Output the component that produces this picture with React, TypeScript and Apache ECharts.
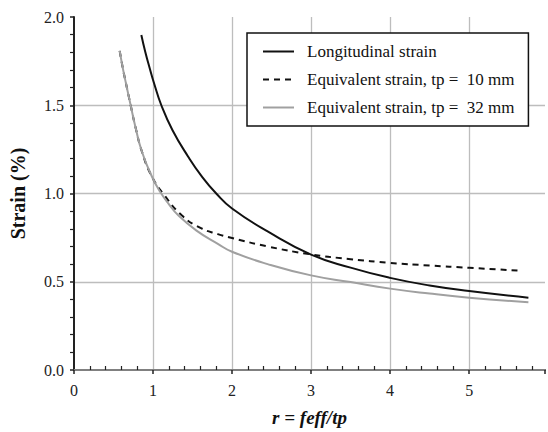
import React, { useEffect, useRef } from "react";
import * as echarts from "echarts";

const seriesNames = [
  "Longitudinal strain",
  "Equivalent strain, tp =  10 mm",
  "Equivalent strain, tp =  32 mm",
];

const xLong = [0.852, 0.903, 0.958, 1.013, 1.105, 1.245, 1.443, 1.612, 1.8, 2.0, 2.45, 3.0, 3.5, 4.0, 4.5, 5.0, 5.75];
const yLong = [1.898, 1.8, 1.71, 1.625, 1.5, 1.36, 1.21, 1.1, 1.0, 0.915, 0.785, 0.654, 0.58, 0.522, 0.479, 0.448, 0.41];

const x10 = [0.578, 0.62, 0.662, 0.717, 0.776, 0.861, 0.987, 1.127, 1.36, 1.6, 1.82, 2.0, 2.45, 3.0, 3.5, 4.0, 4.5, 5.0, 5.67];
const y10 = [1.808, 1.705, 1.615, 1.5, 1.38, 1.235, 1.095, 1.0, 0.878, 0.805, 0.77, 0.748, 0.7, 0.655, 0.628, 0.607, 0.592, 0.579, 0.562];

const x32 = [0.578, 0.62, 0.662, 0.717, 0.776, 0.861, 0.987, 1.09, 1.2, 1.316, 1.55, 1.82, 2.0, 2.45, 3.0, 3.5, 4.0, 4.5, 5.0, 5.75];
const y32 = [1.808, 1.705, 1.615, 1.5, 1.38, 1.235, 1.095, 1.01, 0.94, 0.878, 0.79, 0.715, 0.67, 0.6, 0.536, 0.498, 0.461, 0.433, 0.41, 0.384];

const xMin = 0;
const xMax = 5.96;
const yMin = 0;
const yMax = 2;
const FONT = "Liberation Serif";

const zip = (xs: number[], ys: number[]) => xs.map((x, i) => [x, ys[i]]);

export default function App() {
  const ref = useRef<HTMLDivElement>(null);
  useEffect(() => {
    document.body.style.margin = "0";
    const chart = echarts.init(ref.current!, null, { renderer: "svg" });
    chart.setOption({
      animation: false,
      textStyle: { fontFamily: FONT },
      grid: { left: 74, top: 17, right: 0, bottom: 59 },
      legend: {
        orient: "vertical",
        left: 247,
        top: 33,
        data: seriesNames,
        backgroundColor: "#fff",
        borderColor: "#111",
        borderWidth: 1.5,
        borderRadius: 0,
        padding: [10, 14, 10, 15],
        itemWidth: 31,
        itemHeight: 14,
        itemGap: 11,
        itemStyle: { opacity: 0 },
        textStyle: { fontFamily: FONT, fontSize: 17, color: "#111", padding: [0, 0, 0, 8] },
      },
      xAxis: [
        {
          type: "value",
          min: xMin,
          max: xMax,
          interval: 1,
          position: "bottom",
          axisLine: { show: true, onZero: false, lineStyle: { color: "#222", width: 2 } },
          axisTick: { show: true, inside: false, length: 4, lineStyle: { color: "#222", width: 1.5 } },
          axisLabel: {
            fontFamily: FONT,
            fontSize: 16,
            color: "#222",
            margin: 12,
            formatter: (v: number) => (Math.abs(v - Math.round(v)) < 1e-6 ? String(Math.round(v)) : ""),
          },
          splitLine: { show: true, showMinLine: false, showMaxLine: false, lineStyle: { color: "#bdbdbd", width: 1.3 } },
          name: "r = feff/tp",
          nameLocation: "middle",
          nameGap: 38,
          nameTextStyle: { fontFamily: FONT, fontSize: 19, fontWeight: "bold", fontStyle: "italic", color: "#111" },
        },
        {
          type: "value",
          min: xMin,
          max: xMax,
          interval: 1,
          position: "bottom",
          axisLine: { show: false },
          axisTick: { show: false, inside: true },
          minorTick: { show: true, splitNumber: 5, length: 4, lineStyle: { color: "#222", width: 1.2 } },
          axisLabel: { show: false },
          splitLine: { show: false },
        },
        {
          type: "value",
          min: xMin,
          max: xMax,
          interval: 1,
          position: "top",
          axisLine: { show: true, lineStyle: { color: "#808080", width: 1.8 } },
          axisTick: { show: false },
          axisLabel: { show: false },
          splitLine: { show: false },
        },
      ],
      yAxis: [
        {
          type: "value",
          min: yMin,
          max: yMax,
          interval: 0.5,
          axisLine: { show: true, onZero: false, lineStyle: { color: "#222", width: 2 } },
          axisTick: { show: true, inside: false, length: 4, lineStyle: { color: "#222", width: 1.5 } },
          axisLabel: {
            fontFamily: FONT,
            fontSize: 16,
            color: "#222",
            margin: 10,
            formatter: (v: number) => v.toFixed(1),
          },
          splitLine: { show: true, showMinLine: false, showMaxLine: false, lineStyle: { color: "#bdbdbd", width: 1.3 } },
          name: "Strain (%)",
          nameLocation: "middle",
          nameGap: 46,
          nameTextStyle: { fontFamily: FONT, fontSize: 20, fontWeight: "bold", color: "#111" },
        },
        {
          type: "value",
          min: yMin,
          max: yMax,
          interval: 0.5,
          axisLine: { show: false },
          axisTick: { show: false, inside: true },
          minorTick: { show: true, splitNumber: 5, length: 4, lineStyle: { color: "#222", width: 1.2 } },
          axisLabel: { show: false },
          splitLine: { show: false },
        },
      ],
      series: [
        {
          name: seriesNames[1],
          type: "line",
          data: zip(x10, y10),
          smooth: 0.5,
          symbol: "none",
          lineStyle: { color: "#111", width: 2, type: [6, 5] },
          itemStyle: { color: "#111" },
          z: 2,
        },
        {
          name: seriesNames[2],
          type: "line",
          data: zip(x32, y32),
          smooth: 0.5,
          symbol: "none",
          lineStyle: { color: "#a0a0a0", width: 2 },
          itemStyle: { color: "#a0a0a0" },
          z: 3,
        },
        {
          name: seriesNames[0],
          type: "line",
          data: zip(xLong, yLong),
          smooth: 0.5,
          symbol: "none",
          lineStyle: { color: "#111", width: 2 },
          itemStyle: { color: "#111" },
          z: 4,
        },
      ],
    });
    return () => chart.dispose();
  }, []);
  return <div ref={ref} style={{ width: 548, height: 432 }} />;
}
